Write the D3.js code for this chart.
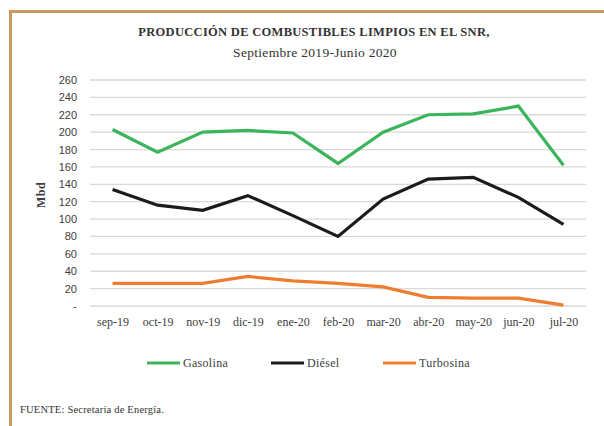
<!DOCTYPE html>
<html>
<head>
<meta charset="utf-8">
<script src="https://cdn.jsdelivr.net/npm/d3@7"></script>
<style>
  body { margin: 0; background: #fff; }
  svg text { fill: #404040; }
  .serif { font-family: "Liberation Serif", "DejaVu Serif", serif; }
  .sans { font-family: "Liberation Sans", Arial, sans-serif; }
</style>
</head>
<body>
<svg id="chart" width="604" height="426"></svg>
<script>
const months = ['sep-19', 'oct-19', 'nov-19', 'dic-19', 'ene-20', 'feb-20', 'mar-20', 'abr-20', 'may-20', 'jun-20', 'jul-20'];
const gasolina = [203, 177, 200, 202, 199, 164, 200, 220, 221, 230, 162];
const diesel = [134, 116, 110, 127, 104, 80, 123, 146, 148, 125, 94];
const turbosina = [26, 26, 26, 34, 29, 26, 22, 10, 9, 9, 1];
const yTicks = [0, 20, 40, 60, 80, 100, 120, 140, 160, 180, 200, 220, 240, 260];

const series = [
  { name: 'Gasolina', values: gasolina, color: '#3bb55c' },
  { name: 'Diésel', values: diesel, color: '#1b1b1b' },
  { name: 'Turbosina', values: turbosina, color: '#ee7d31' }
];

const svg = d3.select('#chart');

// frame (top + left bars)
svg.append('rect').attr('x', 9).attr('y', 10).attr('width', 595).attr('height', 3).attr('fill', '#c9995d');
svg.append('rect').attr('x', 9).attr('y', 10).attr('width', 3).attr('height', 416).attr('fill', '#c9995d');

// title
svg.append('text').attr('class', 'serif')
  .attr('x', 314).attr('y', 36).attr('text-anchor', 'middle')
  .style('font-size', '12.5px').style('font-weight', 'bold').style('fill', '#333')
  .style('letter-spacing', '0.3px')
  .text('PRODUCCIÓN  DE COMBUSTIBLES LIMPIOS  EN EL SNR,');
svg.append('text').attr('class', 'serif')
  .attr('x', 315).attr('y', 57).attr('text-anchor', 'middle')
  .style('font-size', '13.5px').style('fill', '#333')
  .style('letter-spacing', '0.3px')
  .text('Septiembre  2019-Junio 2020');

const x = d3.scalePoint().domain(months).range([90, 586]).padding(0.5);
const y = d3.scaleLinear().domain([0, 260]).range([306, 80]);

// grid
svg.append('g')
  .selectAll('line')
  .data(yTicks)
  .join('line')
  .attr('x1', 90).attr('x2', 586)
  .attr('y1', d => y(d)).attr('y2', d => y(d))
  .attr('stroke', '#d9d9d9').attr('stroke-width', 1.3);

// y axis labels
const yAxis = svg.append('g').attr('transform', 'translate(77,0)')
  .call(d3.axisLeft(y).tickValues(yTicks).tickSize(0).tickPadding(0)
    .tickFormat(d => d === 0 ? '-' : d));
yAxis.select('.domain').remove();
yAxis.selectAll('text').attr('class', 'sans').style('font-size', '11px').style('fill', '#404040');

// x axis labels
const xAxis = svg.append('g').attr('transform', 'translate(0,317)')
  .call(d3.axisBottom(x).tickSize(0).tickPadding(0));
xAxis.select('.domain').remove();
xAxis.selectAll('text').attr('class', 'serif').style('font-size', '12px').style('fill', '#404040');

// y title
svg.append('text').attr('class', 'serif')
  .attr('transform', 'translate(45,195) rotate(-90)')
  .attr('text-anchor', 'middle')
  .style('font-size', '12px').style('font-weight', 'bold').style('fill', '#404040')
  .style('letter-spacing', '0.5px')
  .text('Mbd');

// lines
const line = d3.line().x((d, i) => x(months[i])).y(d => y(d));
svg.append('g')
  .selectAll('path')
  .data(series)
  .join('path')
  .attr('d', d => line(d.values))
  .attr('fill', 'none')
  .attr('stroke', d => d.color)
  .attr('stroke-width', 3.2)
  .attr('stroke-linejoin', 'miter');

// legend
const legendX = [147, 271, 383];
const legend = svg.append('g')
  .selectAll('g')
  .data(series)
  .join('g')
  .attr('transform', (d, i) => `translate(${legendX[i]},363)`);
legend.append('line')
  .attr('x1', 0).attr('x2', 33)
  .attr('stroke', d => d.color).attr('stroke-width', 3);
legend.append('text').attr('class', 'serif')
  .attr('x', 36).attr('y', 4)
  .style('font-size', '12px').style('fill', '#404040')
  .style('letter-spacing', '0.3px')
  .text(d => d.name);

// source
svg.append('text').attr('class', 'serif')
  .attr('x', 20).attr('y', 413)
  .style('font-size', '10.5px').style('fill', '#333')
  .style('letter-spacing', '0.2px')
  .text('FUENTE: Secretaría de Energía.');
</script>
</body>
</html>
